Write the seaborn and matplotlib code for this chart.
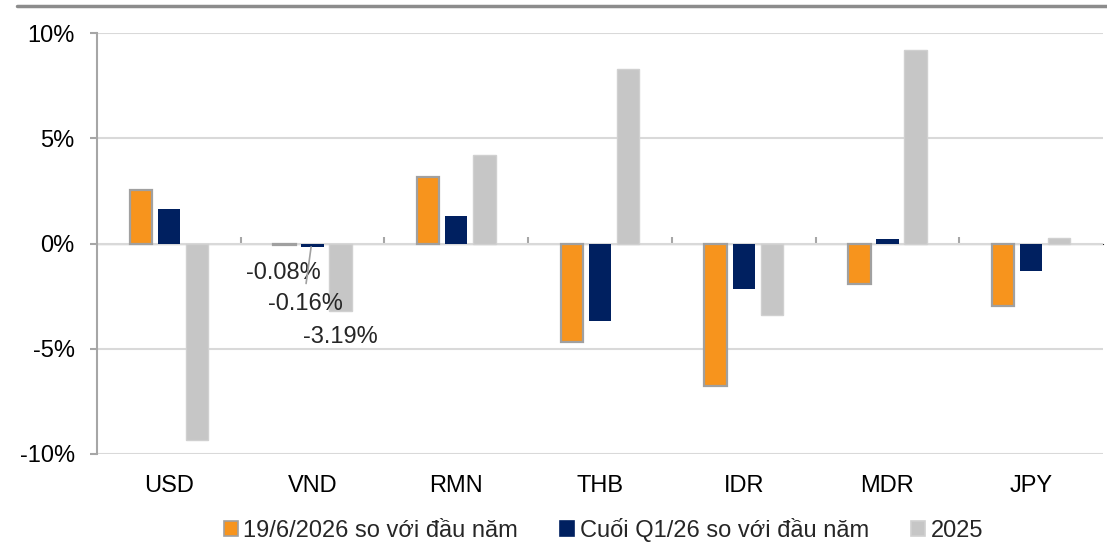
import pandas as pd
import seaborn as sns
import matplotlib.pyplot as plt
from matplotlib.lines import Line2D
from matplotlib.patches import Patch
from matplotlib.ticker import FuncFormatter

# Du lieu (%)
currencies = ["USD", "VND", "RMN", "THB", "IDR", "MDR", "JPY"]
series_names = ["19/6/2026 so với đầu năm", "Cuối Q1/26 so với đầu năm", "2025"]
ytd_june = [2.56, -0.08, 3.15, -4.70, -6.76, -1.92, -2.97]
ytd_q1 = [1.64, -0.16, 1.31, -3.68, -2.14, 0.22, -1.29]
year_2025 = [-9.33, -3.19, 4.21, 8.30, -3.40, 9.19, 0.27]

colors = ["#F7941D", "#002060", "#C6C6C6"]
edge_colors = ["#A0A0A0", "#002060", "#D0D0D0"]

df = pd.DataFrame({
    "currency": currencies * 3,
    "series": [series_names[0]] * 7 + [series_names[1]] * 7 + [series_names[2]] * 7,
    "value": ytd_june + ytd_q1 + year_2025,
})

sns.set_style("white")
plt.rcParams["font.family"] = ["Liberation Sans", "DejaVu Sans"]

fig = plt.figure(figsize=(11.07, 5.45), dpi=100)
ax = fig.add_axes([0.0876, 0.167, 0.9088, 0.7724])

sns.barplot(data=df, x="currency", y="value", hue="series", order=currencies,
            hue_order=series_names, palette=colors, saturation=1,
            width=0.585, gap=0.2, legend=False, ax=ax)

# vien cho cac cot
for cont, ec, lw in zip(ax.containers, edge_colors, [1.6, 0, 1.0]):
    for bar in cont:
        bar.set_edgecolor(ec)
        bar.set_linewidth(lw)

ax.set_ylim(-10, 10)
ax.set_xlim(-0.5, 6.5)
ax.set_yticks([-10, -5, 0, 5, 10])
ax.yaxis.set_major_formatter(FuncFormatter(lambda v, p: f"{v:.0f}%"))
ax.grid(axis="y", color="#D9D9D9", linewidth=1.5)
ax.set_axisbelow(True)
ax.set_xlabel("")
ax.set_ylabel("")

for s in ["top", "right", "bottom"]:
    ax.spines[s].set_visible(False)
ax.spines["left"].set_color("#A6A6A6")
ax.spines["left"].set_linewidth(1.5)

ax.tick_params(axis="y", length=5, width=1.5, color="#A6A6A6", pad=11,
               labelsize=17, labelcolor="black", left=True)
ax.tick_params(axis="x", length=0, pad=15, labelsize=17, labelcolor="black")

# truc 0 voi vach chia giua cac nhom
zero = ax.secondary_xaxis(0.5)
zero.set_xticks([i + 0.5 for i in range(len(currencies) - 1)])
zero.set_xticklabels([])
zero.tick_params(axis="x", length=5, width=1.5, color="#A6A6A6", direction="out")
zero.spines["bottom"].set_color("#A6A6A6")
zero.spines["bottom"].set_linewidth(1.5)

# nhan cho VND
ax.text(0.794, -1.38, "-0.08%", fontsize=17, ha="center", va="center")
ax.text(0.948, -2.86, "-0.16%", fontsize=17, ha="center", va="center")
ax.text(1.191, -4.43, "-3.19%", fontsize=17, ha="center", va="center")
ax.annotate("", xy=(0.99, ytd_q1[1]), xytext=(0.955, -1.9),
            arrowprops=dict(arrowstyle="-", color="#A0A0A0", lw=1.2,
                            shrinkA=0, shrinkB=0))

handles = [Patch(facecolor=c, edgecolor=e, linewidth=1.2)
           for c, e in zip(colors, edge_colors)]
fig.legend(handles, series_names, loc="center", bbox_to_anchor=(0.545, 0.028),
           ncol=3, frameon=False, fontsize=17, handlelength=0.6,
           handleheight=0.55, handletextpad=0.22, columnspacing=1.8)

fig.add_artist(Line2D([17 / 1107, 1], [1 - 5.5 / 545] * 2, color="#8C8C8C",
                      linewidth=2.5))

plt.savefig("out.png", dpi=100)
